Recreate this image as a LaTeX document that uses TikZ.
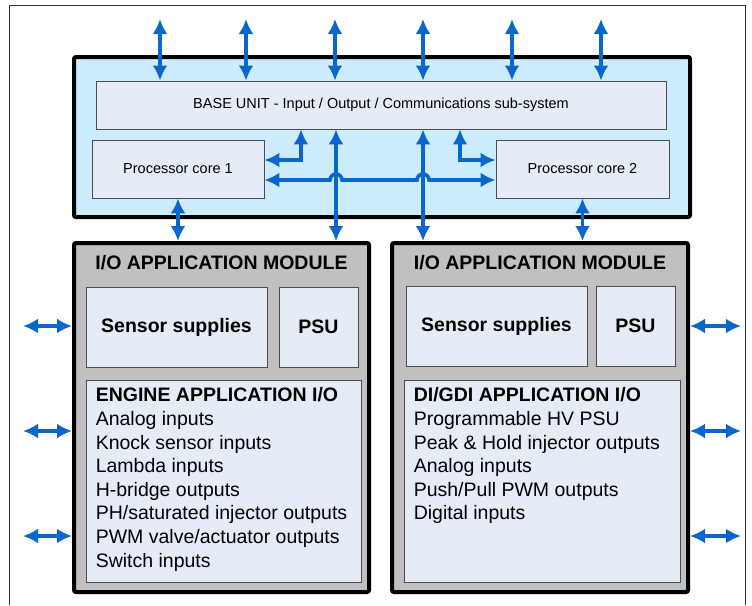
\documentclass[tikz,border=0pt]{standalone}
\usepackage{fontspec}
\setmainfont{Liberation Sans}
\usetikzlibrary{arrows.meta, positioning}
\definecolor{basefill}{HTML}{CCEBFD}
\definecolor{boxfill}{HTML}{E6ECF6}
\definecolor{modfill}{HTML}{C0C0C0}
\definecolor{busblue}{HTML}{0A66CC}
\tikzset{
  ecu/.style={
	x=1pt, y=-1pt, % one unit is one pixel of the drawing, y runs down
	bus/.style={{Latex[length=15pt,width=15pt]}-{Latex[length=15pt,width=15pt]}, draw=busblue, line width=3.6pt}, % the blue two-way links
	unit/.style={draw=black, line width=4pt, rounded corners=2pt, inner sep=0pt}, % heavy outlined units
	block/.style={draw=black!70, line width=0.8pt, fill=boxfill, inner sep=0pt}, % light boxes inside the units
	small/.style={font=\fontsize{14.5}{17}\selectfont}, % base unit texts
	big/.style={font=\fontsize{19.5}{23.6}\selectfont\bfseries, inner sep=0pt}, % module headings
	list/.style={font=\fontsize{19.5}{23.6}\selectfont, align=left, inner sep=0pt}, % I/O lists
  }
}
\begin{document}
\begin{tikzpicture}[ecu]
	  \useasboundingbox (0,0) rectangle (752,605);
	  \draw[black!80, line width=1pt] (9,605) |- (745,5) -- (745,605);
	  % base unit
	  \node[unit, fill=basefill, minimum width=616pt, minimum height=160pt] (baseunit) at (382,137) {};
	  \node[block, small, minimum width=570pt, minimum height=48pt] (base) at (381,105) {BASE UNIT - Input / Output / Communications sub-system};
	  \node[block, small, minimum width=172pt, minimum height=58pt] (core1) at (178,169) {Processor core 1};
	  \node[block, small, minimum width=173pt, minimum height=58pt] (core2) at (582.5,169) {Processor core 2};
	  % application modules
	  \node[unit, fill=modfill, minimum width=295pt, minimum height=349pt] (modL) at (221.5,417.5) {};
	  \node[unit, fill=modfill, minimum width=296pt, minimum height=349pt] (modR) at (540,417.5) {};
	  \node[big, below=14pt of modL.north] (headL) {I/O APPLICATION MODULE};
	  \node[big, below=14pt of modR.north] (headR) {I/O APPLICATION MODULE};
	  \node[block, big, minimum width=181pt, minimum height=80pt] (sensL) at (176.5,327) {Sensor supplies};
	  \node[block, big, minimum width=79pt, minimum height=80pt] (psuL) at (318.5,327) {PSU};
	  \node[block, big, minimum width=181pt, minimum height=80pt] (sensR) at (496.5,326) {Sensor supplies};
	  \node[block, big, minimum width=79pt, minimum height=80pt] (psuR) at (635.5,326) {PSU};
	  \node[block, minimum width=275pt, minimum height=202pt] (engio) at (223.5,481) {};
	  \node[block, minimum width=276pt, minimum height=202pt] (digdi) at (542,481) {};
	  \node[list, below right=8pt and 10pt of engio.north west] (engtxt) {\textbf{ENGINE APPLICATION I/O}\\Analog inputs\\Knock sensor inputs\\Lambda inputs\\H-bridge outputs\\PH/saturated injector outputs\\PWM valve/actuator outputs\\Switch inputs};
	  \node[list, below right=8pt and 10pt of digdi.north west] (digtxt) {\textbf{DI/GDI APPLICATION I/O}\\Programmable HV PSU\\Peak \& Hold injector outputs\\Analog inputs\\Push/Pull PWM outputs\\Digital inputs};
	  % links
	  \foreach \x [count=\i] in {160,246,335,423,512,601}{
		\coordinate (top\i) at (\x,19);
		\draw[bus] (top\i) -- (top\i |- base.north);
	  }
	  \foreach \y [count=\i] in {326,431,536}{
		\coordinate (inL\i) at (23,\y);
		\coordinate (inR\i) at (741,\y);
		\draw[bus] (inL\i) -- (inL\i -| modL.west);
		\draw[bus] (modR.east |- inR\i) -- (inR\i);
	  }
	  \coordinate (linkL) at (336,0);
	  \coordinate (linkR) at (423,0);
	  \coordinate (tapL) at (301,160);
	  \coordinate (tapR) at (460,160);
	  \coordinate (hop) at (0,180);
	  \draw[bus] (core1.south) -- (core1.south |- modL.north);
	  \draw[bus] (core2.south) -- (core2.south |- modR.north);
	  \draw[bus] (base.south -| linkL) -- (modL.north -| linkL);
	  \draw[bus] (base.south -| linkR) -- (modR.north -| linkR);
	  \draw[bus] (base.south -| tapL) |- (core1.east |- tapL);
	  \draw[bus] (base.south -| tapR) |- (core2.west |- tapR);
	  \draw[bus] (core1.east |- hop) -- ([xshift=-6pt]linkL |- hop) arc[start angle=180, end angle=0, radius=6pt]
		-- ([xshift=-6pt]linkR |- hop) arc[start angle=180, end angle=0, radius=6pt] -- (core2.west |- hop);
\end{tikzpicture}
\end{document}
